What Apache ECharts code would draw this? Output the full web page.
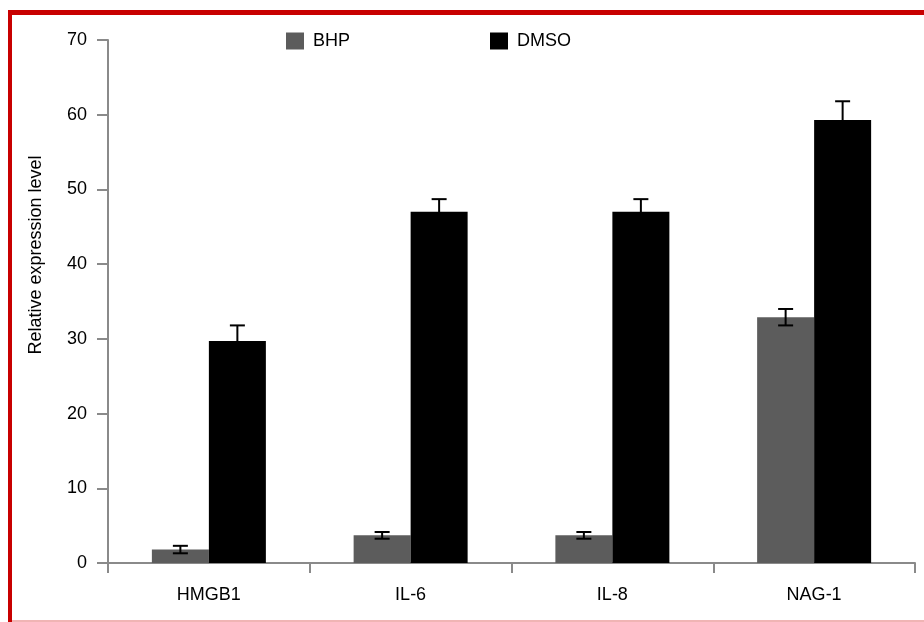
<!DOCTYPE html>
<html>
<head>
<meta charset="utf-8">
<script src="https://cdn.jsdelivr.net/npm/echarts@6/dist/echarts.min.js"></script>
<style>
html,body{margin:0;padding:0;background:#fff;}
#chart{width:924px;height:622px;}
</style>
</head>
<body>
<div id="chart"></div>
<script>
var categories = ['HMGB1', 'IL-6', 'IL-8', 'NAG-1'];
var bhpValues = [1.8, 3.7, 3.7, 32.9];
var bhpErrors = [0.5, 0.45, 0.45, 1.1];
var dmsoValues = [29.7, 47.0, 47.0, 59.3];
var dmsoErrors = [2.1, 1.7, 1.7, 2.5];
var yTicks = [0, 10, 20, 30, 40, 50, 60, 70];

var chart = echarts.init(document.getElementById('chart'));
var FONT = 'Liberation Sans, Arial, sans-serif';
var BAR_W = 57;

function errorSeries(name, values, errors, offset) {
  return {
    type: 'custom',
    name: name + ' error',
    silent: true,
    z: 5,
    data: values.map(function (v, i) { return [i, v, errors[i]]; }),
    renderItem: function (params, api) {
      var idx = api.value(0), v = api.value(1), e = api.value(2);
      var hi = api.coord([idx, v + e]);
      var lo = api.coord([idx, v - e]);
      var x = hi[0] + offset;
      var cap = 7.5;
      var st = { stroke: '#000', lineWidth: 2 };
      return {
        type: 'group',
        children: [
          { type: 'line', shape: { x1: x, y1: hi[1], x2: x, y2: lo[1] }, style: st },
          { type: 'line', shape: { x1: x - cap, y1: hi[1], x2: x + cap, y2: hi[1] }, style: st },
          { type: 'line', shape: { x1: x - cap, y1: lo[1], x2: x + cap, y2: lo[1] }, style: st }
        ]
      };
    }
  };
}

var option = {
  animation: false,
  backgroundColor: '#fff',
  grid: { left: 108, right: 9, top: 40, bottom: 59 },
  legend: {
    left: 281, top: 27,
    itemWidth: 18, itemHeight: 17, itemGap: 140,
    icon: 'rect',
    data: ['BHP', 'DMSO'],
    textStyle: { fontFamily: FONT, fontSize: 18, color: '#000', padding: [5, 0, 0, 4] }
  },
  xAxis: {
    type: 'category',
    data: categories,
    axisLine: { lineStyle: { color: '#8a8a8a', width: 2 } },
    axisTick: { show: true, length: 10, lineStyle: { color: '#8a8a8a', width: 2 } },
    axisLabel: { fontFamily: FONT, fontSize: 18, color: '#000', margin: 23 }
  },
  yAxis: {
    type: 'value',
    min: 0, max: 70, interval: 10,
    axisLine: { show: true, lineStyle: { color: '#8a8a8a', width: 2 } },
    axisTick: { show: true, length: 11, lineStyle: { color: '#8a8a8a', width: 2 } },
    splitLine: { show: false },
    axisLabel: {
      fontFamily: FONT, fontSize: 18, color: '#000', margin: 21,
      formatter: function (v) { return yTicks.indexOf(v) >= 0 ? String(v) : ''; }
    }
  },
  series: [
    {
      name: 'BHP', type: 'bar', data: bhpValues,
      barWidth: BAR_W, barGap: '0%',
      itemStyle: { color: '#5c5c5c' }
    },
    {
      name: 'DMSO', type: 'bar', data: dmsoValues,
      barWidth: BAR_W, barGap: '0%',
      itemStyle: { color: '#000' }
    },
    errorSeries('BHP', bhpValues, bhpErrors, -BAR_W / 2),
    errorSeries('DMSO', dmsoValues, dmsoErrors, BAR_W / 2)
  ],
  graphic: [
    { type: 'rect', shape: { x: 8, y: 10, width: 916, height: 5 }, style: { fill: '#c80000' }, silent: true },
    { type: 'rect', shape: { x: 8, y: 10, width: 4, height: 612 }, style: { fill: '#c80000' }, silent: true },
    { type: 'rect', shape: { x: 12, y: 620, width: 912, height: 2 }, style: { fill: '#f0b4b4' }, silent: true },
    {
      type: 'text', x: 36, y: 255, rotation: Math.PI / 2,
      style: { text: 'Relative expression level', fontFamily: FONT, fontSize: 18, fill: '#000', align: 'center', verticalAlign: 'middle' },
      silent: true
    }
  ]
};
chart.setOption(option);
</script>
</body>
</html>
